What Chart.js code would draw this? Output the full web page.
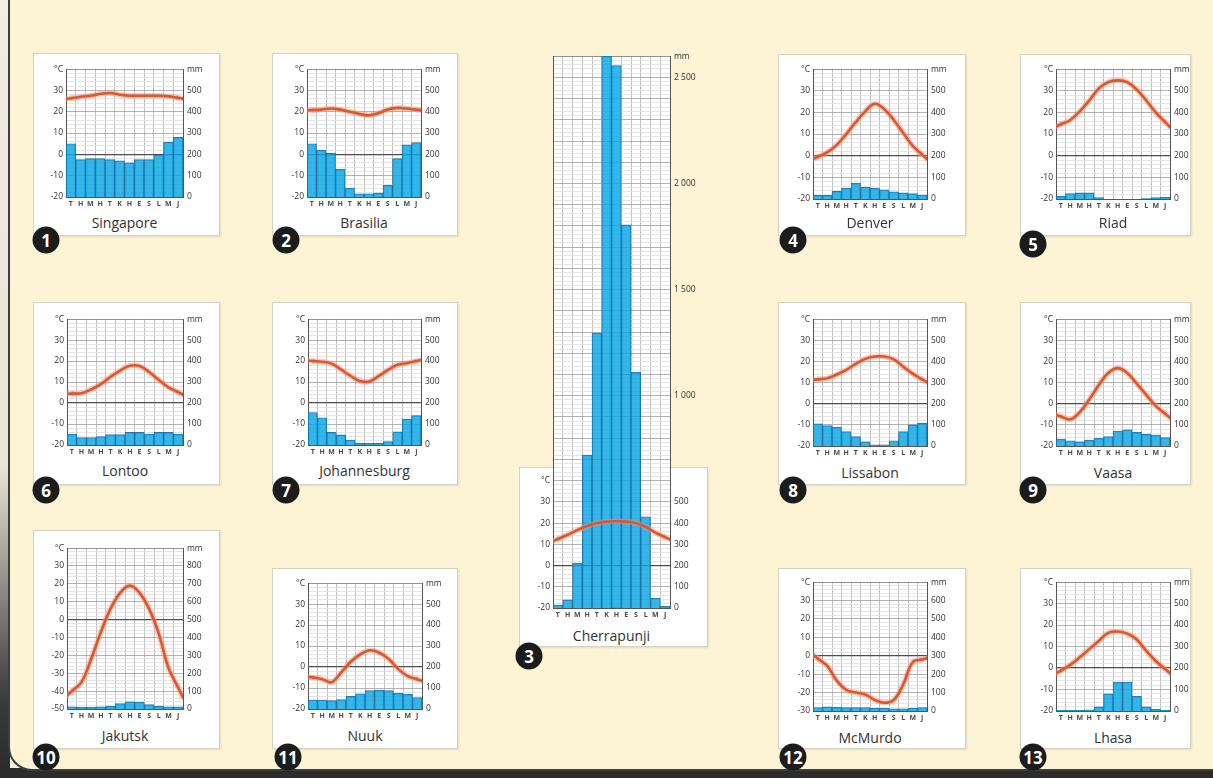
<!DOCTYPE html>
<html><head><meta charset="utf-8">
<script src="https://cdn.jsdelivr.net/npm/chart.js@4.4.0/dist/chart.umd.min.js"></script>
<style>
html,body{margin:0;padding:0;width:1213px;height:778px;overflow:hidden;background:#f3f0e4;font-family:"Open Sans","Noto Sans",sans-serif;}
#leftstrip{position:absolute;left:0;top:0;width:10px;height:778px;background:linear-gradient(#f1eee2 0%,#e8e4d6 60%,#3a3a3a 90%,#2a2a2a 100%);}
#bottomstrip{position:absolute;left:0;top:768px;width:1213px;height:10px;background:#2c2c2c;}
#cream{position:absolute;left:8px;top:0;width:1205px;height:771px;background:#fcf4d5;border-left:2px solid #3d3d3d;border-bottom:2px solid #3d3d3d;border-bottom-left-radius:24px;box-sizing:border-box;}
.box{position:absolute;background:#fff;border:1px solid #d6d2c2;box-shadow:1px 1px 2px rgba(0,0,0,0.10);box-sizing:border-box;}
.title{position:absolute;font-size:14px;color:#333;transform:translate(-50%,-50%);white-space:nowrap;}
.badge{position:absolute;width:27px;height:27px;border-radius:50%;background:#1c1c1c;color:#fff;font-weight:bold;font-size:17px;line-height:27px;text-align:center;transform:translate(-50%,-50%);font-family:"Open Sans",sans-serif;}
canvas{position:absolute;}
</style></head><body>
<div id="leftstrip"></div><div id="bottomstrip"></div><div id="cream"></div>
<div id="stage"></div>
<script>
// ---------- data ----------
const months = ['T','H','M','H','T','K','H','E','S','L','M','J'];
const cityNames = ['Singapore','Brasilia','Cherrapunji','Denver','Riad','Lontoo','Johannesburg','Lissabon','Vaasa','Jakutsk','Nuuk','McMurdo','Lhasa'];

const singaporeTemp = [26.3, 27, 27.5, 28.3, 28.8, 28, 27.5, 27.5, 27.5, 27.5, 27.2, 26.5];
const singaporePrec = [250, 175, 180, 180, 175, 170, 160, 175, 175, 198, 257, 280];

const brasiliaTemp = [20.8, 21, 21.5, 21, 20, 19, 18.3, 19.3, 21, 21.8, 21.5, 21];
const brasiliaPrec = [250, 220, 205, 130, 42, 15, 15, 18, 55, 180, 245, 255];

const cherrapunjiTemp = [12.5, 14.5, 16.7, 18.6, 20, 20.7, 20.9, 20.7, 20.1, 18.2, 15.5, 13.4];
const cherrapunjiPrec = [14, 38, 212, 720, 1295, 2600, 2555, 1805, 1110, 430, 47, 8];
const cherrapunjiPrecTicks = [0, 100, 200, 300, 400, 500, 1000, 1500, 2000, 2500];

const denverTemp = [-0.5, 1.5, 5, 10, 15.5, 20.5, 24, 21.5, 16.5, 10.5, 4.5, 0.5];
const denverPrec = [17, 17, 35, 50, 72, 55, 50, 42, 33, 28, 25, 18];

const riadTemp = [14.5, 16.5, 20.5, 25.5, 31, 34, 34.8, 34, 30.5, 25.5, 20, 15.5];
const riadPrec = [12, 25, 28, 28, 6, 0, 0, 0, 0, 2, 6, 8];

const lontooTemp = [4.5, 4.7, 6.5, 9, 12.5, 15.5, 17.8, 17.6, 14.8, 11, 7.5, 5.2];
const lontooPrec = [52, 35, 35, 40, 50, 50, 60, 60, 52, 60, 60, 52];

const johannesburgTemp = [20, 19.7, 18.8, 16, 13, 10.5, 10.3, 12.8, 15.8, 18.2, 19, 20];
const johannesburgPrec = [155, 130, 60, 48, 24, 8, 8, 8, 16, 63, 124, 140];

const lissabonTemp = [11.5, 12, 13.8, 16, 18.8, 21.2, 22.3, 22.3, 21, 17.5, 14.2, 11.5];
const lissabonPrec = [105, 97, 89, 68, 44, 20, 5, 5, 25, 68, 100, 108];

const vaasaTemp = [-6, -7.4, -4, 2, 8.8, 14.5, 16.8, 14.5, 9.5, 4.2, -1, -4.8];
const vaasaPrec = [33, 25, 20, 28, 36, 44, 71, 76, 65, 55, 52, 40];

const jakutskTemp = [-40, -35, -22, -7, 6, 15, 19, 15, 6, -8, -27, -38];
const jakutskPrec = [12, 10, 10, 12, 15, 30, 40, 38, 25, 15, 12, 12];

const nuukTemp = [-5, -5.8, -7.2, -2.5, 2.5, 6, 8, 6.8, 3.8, -1, -4.3, -5.8];
const nuukPrec = [43, 43, 40, 45, 60, 72, 88, 90, 88, 75, 70, 55];

const mcmurdoTemp = [-1.5, -5.5, -13.5, -18.5, -20, -21, -24, -25.5, -24, -15.5, -3.5, -2];
const mcmurdoPrec = [18, 22, 20, 18, 18, 18, 15, 15, 12, 12, 15, 18];

const lhasaTemp = [-1.2, 1.5, 5, 8.8, 12.6, 16.4, 17, 16, 13.3, 8, 3.3, -0.5];
const lhasaPrec = [3, 3, 3, 5, 19, 80, 135, 135, 68, 19, 8, 3];

// ---------- layout ----------
const panels = [
  {i:0, temp:singaporeTemp, prec:singaporePrec, tMin:-20, tMax:40, plot:[66,68,183,197], box:[33,53,220,236], titleY:222, badge:[46,240]},
  {i:1, temp:brasiliaTemp, prec:brasiliaPrec, tMin:-20, tMax:40, plot:[307,68,421,197], box:[272,53,458,236], titleY:222, badge:[286,240]},
  {i:2, temp:cherrapunjiTemp, prec:cherrapunjiPrec, tMin:-20, tMax:240, unitAt:40, plot:[553,55,670,608], box:[519,467,708,647], titleY:635, badge:[529,656], precTicks:cherrapunjiPrecTicks},
  {i:3, temp:denverTemp, prec:denverPrec, tMin:-20, tMax:40, plot:[813,68,927,199], box:[778,54,966,236], titleY:222, badge:[793,240]},
  {i:4, temp:riadTemp, prec:riadPrec, tMin:-20, tMax:40, plot:[1056,68,1170,199], box:[1020,54,1191,236], titleY:222, badge:[1033,244]},
  {i:5, temp:lontooTemp, prec:lontooPrec, tMin:-20, tMax:40, plot:[67,318,183,445], box:[33,302,220,485], titleY:470, badge:[46,490]},
  {i:6, temp:johannesburgTemp, prec:johannesburgPrec, tMin:-20, tMax:40, plot:[308,318,421,445], box:[272,302,458,485], titleY:470, badge:[286,490]},
  {i:7, temp:lissabonTemp, prec:lissabonPrec, tMin:-20, tMax:40, plot:[813,318,927,446], box:[778,302,966,485], titleY:472, badge:[793,490]},
  {i:8, temp:vaasaTemp, prec:vaasaPrec, tMin:-20, tMax:40, plot:[1056,318,1170,446], box:[1020,302,1191,485], titleY:472, badge:[1033,490]},
  {i:9, temp:jakutskTemp, prec:jakutskPrec, tMin:-50, tMax:40, plot:[67,547,183,709], box:[33,530,220,749], titleY:735, badge:[46,757]},
  {i:10, temp:nuukTemp, prec:nuukPrec, tMin:-20, tMax:40, plot:[308,582,422,709], box:[272,568,458,749], titleY:735, badge:[288,757]},
  {i:11, temp:mcmurdoTemp, prec:mcmurdoPrec, tMin:-30, tMax:40, plot:[813,581,927,711], box:[778,568,966,749], titleY:737, badge:[793,757]},
  {i:12, temp:lhasaTemp, prec:lhasaPrec, tMin:-20, tMax:40, plot:[1056,581,1170,711], box:[1020,568,1191,749], titleY:737, badge:[1033,757]}
];

Chart.defaults.font.family = '"Open Sans","Noto Sans",sans-serif';
const stage = document.getElementById('stage');

const whitePlot = {id:'whitePlot', beforeDraw(chart){
  const a = chart.chartArea, c = chart.ctx;
  c.save(); c.fillStyle = '#ffffff'; c.fillRect(a.left, a.top, a.right-a.left, a.bottom-a.top); c.restore();
}};
// extends the temperature curve to the plot edges (half-step linear extrapolation)
const edgeLine = {id:'edgeLine', afterDatasetDraw(chart, args){
  const ds = chart.data.datasets[args.index];
  if (ds.type !== 'line') return;
  const pts = args.meta.data, d = ds.data, n = d.length, a = chart.chartArea, ys = chart.scales.yT;
  const yL = ys.getPixelForValue(d[0] - (d[1]-d[0])/2);
  const yR = ys.getPixelForValue(d[n-1] + (d[n-1]-d[n-2])/2);
  const c = chart.ctx;
  c.save(); c.beginPath(); c.rect(a.left, a.top, a.right-a.left, a.bottom-a.top); c.clip();
  c.strokeStyle = ds.borderColor; c.lineWidth = ds.borderWidth; c.lineCap = 'round';
  c.beginPath(); c.moveTo(a.left, yL); c.lineTo(pts[0].x, pts[0].y); c.stroke();
  c.beginPath(); c.moveTo(pts[n-1].x, pts[n-1].y); c.lineTo(a.right, yR); c.stroke();
  c.restore();
}};

function fmtMM(v){ return v >= 1000 ? String(v).replace(/\B(?=(\d{3})+$)/, ' ') : String(v); }

function addDiv(cls, css, text){
  const d = document.createElement('div'); d.className = cls;
  Object.assign(d.style, css); if (text !== undefined) d.textContent = text;
  stage.appendChild(d); return d;
}

panels.forEach(p => {
  const [bl,bt,br,bb] = p.box;
  addDiv('box', {left:bl+'px', top:bt+'px', width:(br-bl)+'px', height:(bb-bt)+'px'});
});

panels.forEach(p => {
  const [l,t,r,b] = p.plot;
  const W = r-l+66, H = b-t+22;
  const cv = document.createElement('canvas');
  cv.width = W; cv.height = H;
  Object.assign(cv.style, {left:(l-32)+'px', top:(t-8)+'px', width:W+'px', height:H+'px'});
  stage.appendChild(cv);
  const pMax = (p.tMax - p.tMin) * 10;
  const unitAt = p.unitAt !== undefined ? p.unitAt : p.tMax;
  const yP = {
    position:'right', min:0, max:pMax,
    ticks:{stepSize:100, autoSkip:false, padding:4, color:'#333', font:{size:8.5},
      callback:(v)=> v === pMax ? 'mm' : fmtMM(v)},
    grid:{display:false, drawTicks:false},
    border:{display:true, color:'#555', width:1},
    afterFit:(s)=>{ s.width = 34; }
  };
  if (p.precTicks) {
    yP.afterBuildTicks = (s) => { s.ticks = p.precTicks.concat([pMax]).map(v => ({value:v})); };
  }
  new Chart(cv, {
    type:'bar',
    data:{labels:months, datasets:[
      {type:'line', data:p.temp, yAxisID:'yT', borderColor:'#de5630', borderWidth:2.6, tension:0.4, pointRadius:0, order:0, fill:false},
      {type:'line', data:p.temp, yAxisID:'yT', borderColor:'rgba(240,150,115,0.5)', borderWidth:5.5, tension:0.4, pointRadius:0, order:1, fill:false},
      {type:'bar', data:p.prec, yAxisID:'yP', backgroundColor:'rgba(10,165,228,0.82)', borderColor:'rgba(10,95,155,0.85)', borderWidth:0.8, categoryPercentage:1, barPercentage:1, order:2}
    ]},
    options:{
      responsive:false, maintainAspectRatio:false, animation:false, events:[],
      layout:{padding:{top:8, left:0, right:0, bottom:0}},
      plugins:{legend:{display:false}, tooltip:{enabled:false}},
      scales:{
        x:{grid:{offset:true, color:'#b0b0b0', lineWidth:0.8, drawTicks:false},
           border:{color:'#555'},
           ticks:{autoSkip:false, maxRotation:0, padding:3, color:'#4a4a4a', font:{size:7, weight:'bold'}},
           afterFit:(s)=>{ s.height = 14; }},
        yT:{position:'left', min:p.tMin, max:p.tMax,
           ticks:{stepSize:2, autoSkip:false, padding:3, color:'#333', font:{size:8.5},
             callback:(v)=> v === unitAt ? '°C' : ((v % 10 === 0 && v < unitAt) ? String(v) : '')},
           grid:{drawTicks:false,
             color:(c)=>{ const v = c.tick ? c.tick.value : 1; if (v === 0) return '#4d4d4d'; if (v === p.tMax) return '#777'; return (v % 10 === 0) ? '#a0a0a0' : '#dedede'; },
             lineWidth:(c)=>{ const v = c.tick ? c.tick.value : 1; return v === 0 ? 1.2 : 0.8; }},
           border:{display:true, color:'#555', width:1},
           afterFit:(s)=>{ s.width = 32; }},
        yP: yP
      }
    },
    plugins:[whitePlot, edgeLine]
  });
});

panels.forEach(p => {
  const [l,t,r,b] = p.plot;
  addDiv('title', {left:((l+r)/2)+'px', top:p.titleY+'px'}, cityNames[p.i]);
  addDiv('badge', {left:p.badge[0]+'px', top:p.badge[1]+'px'}, String(p.i+1));
});
</script>
</body></html>
